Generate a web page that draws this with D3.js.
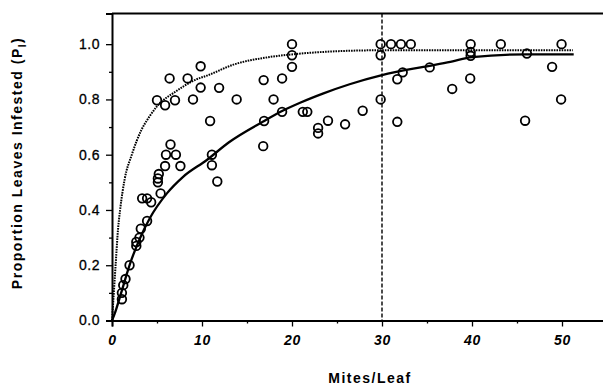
<!DOCTYPE html>
<html>
<head>
<meta charset="utf-8">
<script src="https://cdn.jsdelivr.net/npm/d3@7.9.0/dist/d3.min.js"></script>
<style>
  body { margin: 0; background: #fff; }
  svg { display: block; font-family: "Liberation Sans", Arial, sans-serif; }
</style>
</head>
<body>
<svg id="chart" width="603" height="388"></svg>
<script>
// observed points: mites per leaf vs proportion of leaves infested
const mites = [
  1.1, 1.1, 1.25, 1.5, 1.95, 2.7, 2.7, 3.05, 3.2, 3.9,
  3.35, 3.9, 4.35, 5.4, 5.1, 5.1, 5.2, 5.9, 7.6, 6.0,
  7.1, 6.5, 5.0, 5.9, 7.0, 6.4, 8.4, 9.0, 9.85, 9.85,
  10.9, 11.1, 11.1, 11.7, 11.9, 13.85, 16.85, 16.9, 16.8, 17.95,
  18.9, 18.9, 20.0, 20.0, 20.0, 21.2, 21.7, 22.9, 22.9, 24.0,
  25.9, 27.85, 29.85, 29.85, 29.85, 31.0, 32.1, 33.2, 32.3, 31.7,
  31.7, 35.3, 37.8, 39.85, 39.85, 39.85, 39.8, 43.2, 46.1, 45.9,
  48.9, 49.95, 49.9
];
const infested = [
  0.077, 0.10, 0.128, 0.15, 0.20, 0.27, 0.284, 0.30, 0.332, 0.36,
  0.442, 0.442, 0.428, 0.46, 0.50, 0.514, 0.53, 0.559, 0.559, 0.60,
  0.60, 0.637, 0.797, 0.779, 0.797, 0.876, 0.876, 0.80, 0.843, 0.92,
  0.722, 0.60, 0.562, 0.503, 0.842, 0.80, 0.87, 0.722, 0.631, 0.80,
  0.876, 0.755, 1.0, 0.96, 0.918, 0.755, 0.755, 0.697, 0.677, 0.723,
  0.71, 0.759, 1.0, 0.96, 0.80, 1.0, 1.0, 1.0, 0.898, 0.873,
  0.719, 0.916, 0.838, 1.0, 0.958, 0.972, 0.876, 1.0, 0.966, 0.723,
  0.918, 1.0, 0.80
];

// fitted curves
const upperX = [0, 0.15, 0.4, 0.67, 0.9, 1.4, 2.2, 3.26, 4.2, 5.1, 7.0, 9.2, 10.7, 13.5, 17.2, 20, 23.5, 30, 40, 51.2];
const upperY = [0, 0.074, 0.2, 0.33, 0.40, 0.51, 0.60, 0.689, 0.74, 0.779, 0.827, 0.87, 0.888, 0.926, 0.952, 0.963, 0.972, 0.978, 0.978, 0.978];
const lowerX = [0, 0.3, 1.0, 2.0, 3.1, 4.2, 6.1, 7.9, 10.5, 13, 16.8, 18.9, 20.9, 23.5, 26.4, 30, 34.6, 37.6, 40, 46, 51.3];
const lowerY = [0, 0.025, 0.098, 0.205, 0.297, 0.37, 0.46, 0.52, 0.58, 0.645, 0.72, 0.758, 0.788, 0.822, 0.855, 0.888, 0.918, 0.936, 0.953, 0.963, 0.963];

const markerX = 30;

const xMajor = [0, 10, 20, 30, 40, 50];
const xMinor = [5, 15, 25, 35, 45];
const yMajor = [0, 0.2, 0.4, 0.6, 0.8, 1.0];
const yMinor = [0.1, 0.3, 0.5, 0.7, 0.9];

const svg = d3.select('#chart');
const x = d3.scaleLinear().domain([0, 55]).range([112, 607]);
const y = d3.scaleLinear().domain([0, 1.111]).range([320.5, 13.5]);

// frame top
svg.append('line')
  .attr('x1', x(0)).attr('x2', x(55))
  .attr('y1', y(1.111)).attr('y2', y(1.111))
  .attr('stroke', '#000').attr('stroke-width', 2);

// axes
const xAxis = svg.append('g')
  .attr('transform', `translate(0,${y(0)})`)
  .call(d3.axisBottom(x).tickValues(xMajor).tickSize(6).tickPadding(9).tickFormat(d3.format('d')));
svg.append('g')
  .attr('transform', `translate(0,${y(0)})`)
  .call(d3.axisBottom(x).tickValues(xMinor).tickSize(3).tickFormat(''))
  .select('.domain').remove();

const yAxis = svg.append('g')
  .attr('transform', `translate(${x(0)},0)`)
  .call(d3.axisLeft(y).tickValues(yMajor).tickSize(6).tickPadding(6).tickFormat(d3.format('.1f')));
svg.append('g')
  .attr('transform', `translate(${x(0)},0)`)
  .call(d3.axisLeft(y).tickValues(yMinor).tickSize(3).tickFormat(''))
  .select('.domain').remove();

svg.selectAll('.domain').attr('stroke-width', 2).attr('stroke', '#000');
svg.selectAll('.tick line').attr('stroke', '#000').attr('stroke-width', 1.3);

xAxis.selectAll('text')
  .attr('font-size', 14)
  .attr('font-style', 'italic')
  .attr('font-weight', 'bold')
  .attr('letter-spacing', 0.8)
  .attr('fill', '#000');
yAxis.selectAll('text')
  .attr('font-size', 14)
  .attr('letter-spacing', 0.5)
  .attr('stroke', '#000').attr('stroke-width', 0.3)
  .attr('fill', '#000');
svg.selectAll('.tick text').attr('font-family', '"Liberation Sans", Arial, sans-serif');

// vertical dashed marker at 30 mites/leaf
svg.append('line')
  .attr('x1', x(markerX)).attr('x2', x(markerX))
  .attr('y1', y(1.111)).attr('y2', y(0))
  .attr('stroke', '#000').attr('stroke-width', 1.4)
  .attr('stroke-dasharray', '4,2');

// curves
const upper = upperX.map((d, i) => [d, upperY[i]]);
const lower = lowerX.map((d, i) => [d, lowerY[i]]);
const line = d3.line().x(d => x(d[0])).y(d => y(d[1])).curve(d3.curveMonotoneX);

svg.append('path')
  .attr('d', line(upper))
  .attr('fill', 'none').attr('stroke', '#000')
  .attr('stroke-width', 2).attr('stroke-dasharray', '1.6,1');

svg.append('path')
  .attr('d', line(lower))
  .attr('fill', 'none').attr('stroke', '#000')
  .attr('stroke-width', 2.3);

// points
svg.append('g')
  .selectAll('circle')
  .data(mites.map((d, i) => [d, infested[i]]))
  .join('circle')
  .attr('cx', d => x(d[0]))
  .attr('cy', d => y(d[1]))
  .attr('r', 4.3)
  .attr('fill', 'none')
  .attr('stroke', '#000')
  .attr('stroke-width', 1.8);

// titles
svg.append('text')
  .attr('x', 370).attr('y', 383)
  .attr('text-anchor', 'middle')
  .attr('font-size', 14).attr('font-weight', 'bold')
  .attr('letter-spacing', 1.5)
  .text('Mites/Leaf');

const yTitle = svg.append('text')
  .attr('transform', 'translate(22,163) rotate(-90)')
  .attr('text-anchor', 'middle')
  .attr('font-size', 14).attr('font-weight', 'bold')
  .attr('letter-spacing', 1.5);
yTitle.append('tspan').text('Proportion Leaves Infested (P');
yTitle.append('tspan').attr('font-size', 10).attr('dy', 4).text('I');
yTitle.append('tspan').attr('dy', -4).text(')');
</script>
</body>
</html>
